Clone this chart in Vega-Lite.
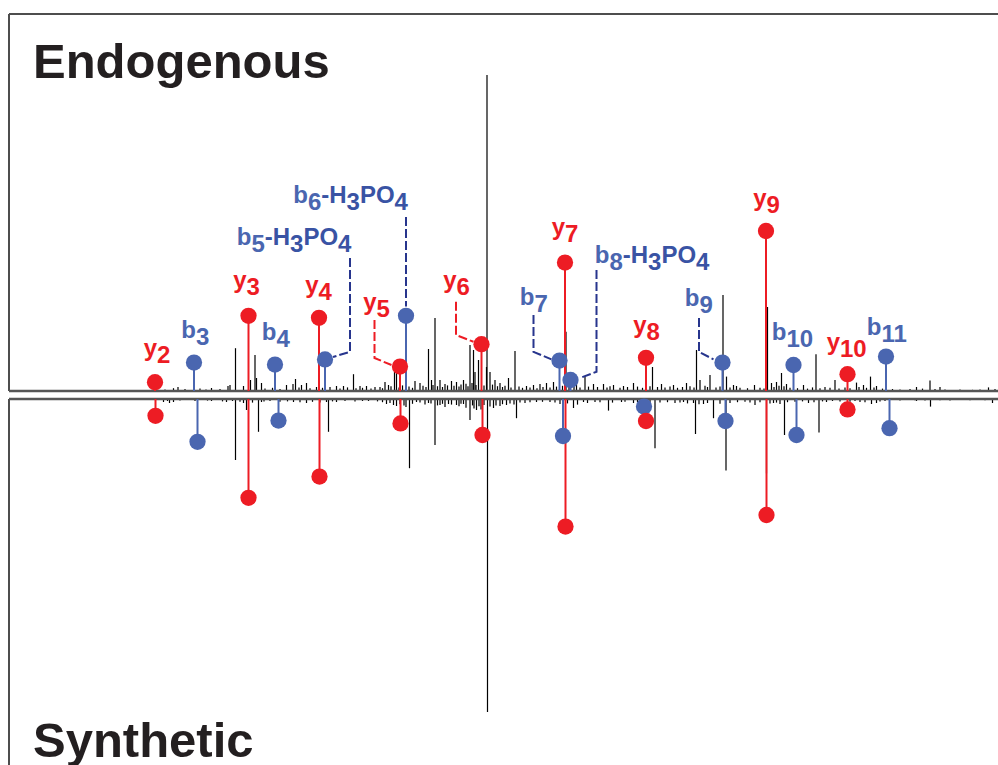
{
  "$schema": "https://vega.github.io/schema/vega-lite/v6.json",
  "padding": {"left": 7, "top": 13, "right": 0, "bottom": 0},
  "spacing": 8,
  "bounds": "flush",
  "background": "white",
  "config": {
    "view": {"stroke": null},
    "axis": {"disable": true},
    "legend": {"disable": true},
    "text": {"font": "Liberation Sans"}
  },
  "resolve": {"scale": {"x": "independent", "y": "independent", "color": "independent"}},
  "datasets": {
    "topNoise": [
      {"mz":347,"i":0.7},{"mz":356,"i":1},{"mz":423,"i":0.75},{"mz":456,"i":1.25},{"mz":460,"i":1.5},{"mz":471,"i":10.7},{"mz":487,"i":1.25},{"mz":501,"i":2.75},{"mz":510,"i":9},{"mz":513,"i":3.25},{"mz":523,"i":2},{"mz":573,"i":1.5},{"mz":586,"i":1.75},{"mz":591,"i":3},{"mz":603,"i":1.5},{"mz":613,"i":2},{"mz":633,"i":1},{"mz":660,"i":1},{"mz":673,"i":1.25},{"mz":687,"i":1.25},{"mz":707,"i":4.2},{"mz":720,"i":1.25},{"mz":733,"i":1.25},{"mz":750,"i":1},{"mz":770,"i":2.25},{"mz":777,"i":1.5},{"mz":789,"i":7},{"mz":793,"i":5.25},{"mz":830,"i":2.5},{"mz":840,"i":2},{"mz":857,"i":10.5},{"mz":863,"i":2.75},{"mz":870,"i":18.25},{"mz":880,"i":2.75},{"mz":890,"i":1.75},{"mz":903,"i":2.5},{"mz":913,"i":2.25},{"mz":927,"i":2.75},{"mz":940,"i":11.5},{"mz":947,"i":10.25},{"mz":950,"i":4.75},{"mz":957,"i":7.75},{"mz":973,"i":6},{"mz":974,"i":79},{"mz":980,"i":4.75},{"mz":990,"i":2.75},{"mz":1000,"i":2},{"mz":1017,"i":3.25},{"mz":1030,"i":10},{"mz":1053,"i":1.25},{"mz":1067,"i":1.5},{"mz":1080,"i":1.75},{"mz":1093,"i":2},{"mz":1107,"i":2.25},{"mz":1132,"i":14.8},{"mz":1153,"i":2},{"mz":1170,"i":3.6},{"mz":1187,"i":1.75},{"mz":1207,"i":1.75},{"mz":1227,"i":1.5},{"mz":1247,"i":1.25},{"mz":1267,"i":2},{"mz":1305,"i":6},{"mz":1323,"i":1.75},{"mz":1347,"i":1.5},{"mz":1373,"i":2},{"mz":1393,"i":10.25},{"mz":1400,"i":2.75},{"mz":1420,"i":4},{"mz":1446,"i":24},{"mz":1453,"i":3.6},{"mz":1467,"i":1.5},{"mz":1473,"i":1.25},{"mz":1509,"i":1.5},{"mz":1535,"i":21},{"mz":1543,"i":2},{"mz":1553,"i":2.25},{"mz":1563,"i":4.5},{"mz":1573,"i":1.75},{"mz":1607,"i":1.5},{"mz":1632,"i":9.2},{"mz":1650,"i":1},{"mz":1670,"i":2.75},{"mz":1713,"i":2.1},{"mz":1727,"i":1.5},{"mz":1741,"i":3.6},{"mz":1753,"i":1.25},{"mz":1833,"i":1},{"mz":1860,"i":2.6},{"mz":1880,"i":1},{"mz":1977,"i":0.9},
      {"mz":330,"i":0.4},{"mz":370,"i":0.5},{"mz":400,"i":0.6},{"mz":412,"i":0.4},{"mz":440,"i":0.5},{"mz":530,"i":0.6},{"mz":545,"i":0.8},{"mz":560,"i":0.5},{"mz":598,"i":0.9},{"mz":620,"i":0.7},{"mz":645,"i":0.8},{"mz":680,"i":0.6},{"mz":695,"i":0.9},{"mz":712,"i":0.7},{"mz":725,"i":0.8},{"mz":742,"i":0.6},{"mz":760,"i":1.0},{"mz":765,"i":0.7},{"mz":782,"i":1.2},{"mz":798,"i":0.9},{"mz":805,"i":1.4},{"mz":818,"i":1.1},{"mz":825,"i":0.8},{"mz":846,"i":1.3},{"mz":852,"i":1.0},{"mz":866,"i":1.5},{"mz":875,"i":1.2},{"mz":885,"i":1.0},{"mz":895,"i":1.4},{"mz":908,"i":1.3},{"mz":918,"i":1.1},{"mz":922,"i":1.6},{"mz":932,"i":1.8},{"mz":936,"i":1.2},{"mz":944,"i":2.0},{"mz":952,"i":1.5},{"mz":968,"i":1.4},{"mz":985,"i":1.6},{"mz":995,"i":1.2},{"mz":1005,"i":1.0},{"mz":1010,"i":1.3},{"mz":1022,"i":0.9},{"mz":1038,"i":1.1},{"mz":1045,"i":0.8},{"mz":1060,"i":0.9},{"mz":1074,"i":0.7},{"mz":1086,"i":1.0},{"mz":1100,"i":0.9},{"mz":1113,"i":1.1},{"mz":1125,"i":1.3},{"mz":1138,"i":1.0},{"mz":1148,"i":1.2},{"mz":1160,"i":0.9},{"mz":1177,"i":1.1},{"mz":1195,"i":1.0},{"mz":1214,"i":0.9},{"mz":1220,"i":1.2},{"mz":1240,"i":0.8},{"mz":1255,"i":1.0},{"mz":1275,"i":1.1},{"mz":1285,"i":0.8},{"mz":1300,"i":1.2},{"mz":1315,"i":1.0},{"mz":1330,"i":0.9},{"mz":1340,"i":1.1},{"mz":1355,"i":0.8},{"mz":1365,"i":1.0},{"mz":1380,"i":1.2},{"mz":1388,"i":0.9},{"mz":1410,"i":1.3},{"mz":1415,"i":1.0},{"mz":1432,"i":0.9},{"mz":1440,"i":1.1},{"mz":1460,"i":0.9},{"mz":1480,"i":0.8},{"mz":1495,"i":0.7},{"mz":1520,"i":0.8},{"mz":1528,"i":0.6},{"mz":1548,"i":1.0},{"mz":1558,"i":1.3},{"mz":1568,"i":1.2},{"mz":1580,"i":0.8},{"mz":1595,"i":0.7},{"mz":1615,"i":0.6},{"mz":1625,"i":0.9},{"mz":1640,"i":0.7},{"mz":1660,"i":0.8},{"mz":1678,"i":0.6},{"mz":1690,"i":0.9},{"mz":1700,"i":0.7},{"mz":1718,"i":1.0},{"mz":1733,"i":0.8},{"mz":1748,"i":0.9},{"mz":1765,"i":0.6},{"mz":1785,"i":0.5},{"mz":1800,"i":0.4},{"mz":1820,"i":0.5},{"mz":1845,"i":0.6},{"mz":1870,"i":0.5},{"mz":1890,"i":0.4},{"mz":1920,"i":0.4},{"mz":1945,"i":0.3},{"mz":1960,"i":0.4},{"mz":1990,"i":0.5}
    ],
    "botNoise": [
      {"mz":327,"i":0.75},{"mz":339,"i":1},{"mz":347,"i":0.75},{"mz":423,"i":0.5},{"mz":453,"i":0.75},{"mz":471,"i":15.25},{"mz":487,"i":1},{"mz":493,"i":2.75},{"mz":517,"i":8.2},{"mz":523,"i":0.75},{"mz":587,"i":0.75},{"mz":613,"i":1},{"mz":653,"i":0.75},{"mz":657,"i":8.2},{"mz":673,"i":0.75},{"mz":737,"i":0.5},{"mz":773,"i":1.25},{"mz":787,"i":1.5},{"mz":793,"i":1.75},{"mz":819,"i":17.3},{"mz":833,"i":0.75},{"mz":857,"i":1},{"mz":870,"i":11.5},{"mz":880,"i":1.5},{"mz":897,"i":1.25},{"mz":913,"i":1.5},{"mz":927,"i":1.25},{"mz":940,"i":5.25},{"mz":953,"i":2.75},{"mz":975,"i":78.25},{"mz":987,"i":2.25},{"mz":1000,"i":1.75},{"mz":1013,"i":1.5},{"mz":1033,"i":4.8},{"mz":1073,"i":0.75},{"mz":1100,"i":0.75},{"mz":1120,"i":1.25},{"mz":1147,"i":2.25},{"mz":1167,"i":0.75},{"mz":1190,"i":0.75},{"mz":1217,"i":2.9},{"mz":1243,"i":0.75},{"mz":1267,"i":1},{"mz":1310,"i":12.3},{"mz":1367,"i":0.75},{"mz":1387,"i":1},{"mz":1391,"i":8.75},{"mz":1407,"i":1.25},{"mz":1427,"i":4.8},{"mz":1452,"i":17.9},{"mz":1510,"i":1.5},{"mz":1533,"i":18.6},{"mz":1547,"i":1},{"mz":1560,"i":1.25},{"mz":1569,"i":9},{"mz":1617,"i":1},{"mz":1638,"i":8.4},{"mz":1653,"i":0.75},{"mz":1720,"i":0.75},{"mz":1743,"i":1.25},{"mz":1753,"i":1},{"mz":1833,"i":0.5},{"mz":1861,"i":1.9},{"mz":1985,"i":1},
      {"mz":335,"i":0.5},{"mz":360,"i":0.4},{"mz":390,"i":0.5},{"mz":415,"i":0.4},{"mz":445,"i":0.6},{"mz":465,"i":0.5},{"mz":480,"i":0.7},{"mz":505,"i":0.9},{"mz":528,"i":0.6},{"mz":540,"i":0.5},{"mz":560,"i":0.7},{"mz":575,"i":0.6},{"mz":600,"i":0.8},{"mz":625,"i":0.7},{"mz":640,"i":0.9},{"mz":665,"i":0.6},{"mz":690,"i":0.5},{"mz":710,"i":0.6},{"mz":725,"i":0.5},{"mz":755,"i":0.6},{"mz":765,"i":0.8},{"mz":780,"i":1.0},{"mz":800,"i":1.3},{"mz":808,"i":1.6},{"mz":812,"i":2.0},{"mz":825,"i":1.2},{"mz":840,"i":0.9},{"mz":850,"i":1.4},{"mz":862,"i":1.1},{"mz":875,"i":1.6},{"mz":885,"i":1.2},{"mz":890,"i":2.0},{"mz":903,"i":1.4},{"mz":918,"i":1.8},{"mz":922,"i":1.2},{"mz":932,"i":2.2},{"mz":945,"i":1.6},{"mz":948,"i":2.4},{"mz":958,"i":1.8},{"mz":962,"i":2.6},{"mz":968,"i":1.5},{"mz":980,"i":1.9},{"mz":992,"i":1.6},{"mz":1005,"i":1.3},{"mz":1020,"i":1.1},{"mz":1028,"i":1.4},{"mz":1040,"i":0.9},{"mz":1050,"i":1.0},{"mz":1060,"i":0.8},{"mz":1085,"i":0.7},{"mz":1110,"i":0.9},{"mz":1135,"i":1.1},{"mz":1155,"i":1.4},{"mz":1175,"i":1.0},{"mz":1200,"i":0.8},{"mz":1225,"i":0.9},{"mz":1250,"i":0.7},{"mz":1275,"i":0.8},{"mz":1292,"i":1.2},{"mz":1300,"i":1.4},{"mz":1320,"i":0.9},{"mz":1335,"i":0.8},{"mz":1350,"i":1.0},{"mz":1360,"i":0.9},{"mz":1375,"i":1.1},{"mz":1398,"i":1.3},{"mz":1415,"i":1.0},{"mz":1440,"i":1.2},{"mz":1460,"i":1.0},{"mz":1475,"i":0.8},{"mz":1490,"i":0.7},{"mz":1500,"i":0.9},{"mz":1520,"i":0.8},{"mz":1540,"i":1.1},{"mz":1553,"i":0.9},{"mz":1575,"i":0.8},{"mz":1590,"i":0.7},{"mz":1605,"i":0.6},{"mz":1628,"i":0.8},{"mz":1645,"i":0.6},{"mz":1665,"i":0.5},{"mz":1680,"i":0.6},{"mz":1700,"i":0.7},{"mz":1710,"i":0.5},{"mz":1730,"i":0.8},{"mz":1760,"i":0.6},{"mz":1770,"i":0.5},{"mz":1800,"i":0.4},{"mz":1830,"i":0.3},{"mz":1850,"i":0.4},{"mz":1880,"i":0.3},{"mz":1900,"i":0.4},{"mz":1940,"i":0.3},{"mz":1970,"i":0.3}
    ],
    "topIons": [
      {"ion":"y2","type":"y","mz":310,"i":2.2},
      {"ion":"b3","type":"b","mz":388,"i":7.1},
      {"ion":"y3","type":"y","mz":497,"i":18.8},
      {"ion":"b4","type":"b","mz":550,"i":6.6},
      {"ion":"y4","type":"y","mz":638,"i":18.3},
      {"ion":"b5-H3PO4","type":"b","mz":650,"i":7.9},
      {"ion":"y5","type":"y","mz":800,"i":6.1},
      {"ion":"b6-H3PO4","type":"b","mz":812,"i":18.8},
      {"ion":"y6","type":"y","mz":963,"i":11.7},
      {"ion":"b7","type":"b","mz":1119,"i":7.6},
      {"ion":"y7","type":"y","mz":1130,"i":32.1},
      {"ion":"b8-H3PO4","type":"b","mz":1141,"i":2.75},
      {"ion":"y8","type":"y","mz":1292,"i":8.3},
      {"ion":"b9","type":"b","mz":1445,"i":7.1},
      {"ion":"y9","type":"y","mz":1532,"i":40},
      {"ion":"b10","type":"b","mz":1587,"i":6.5},
      {"ion":"y10","type":"y","mz":1695,"i":4.2},
      {"ion":"b11","type":"b","mz":1772,"i":8.6}
    ],
    "botIons": [
      {"ion":"y2","type":"y","mz":311,"i":4.2},
      {"ion":"b3","type":"b","mz":395,"i":10.7},
      {"ion":"y3","type":"y","mz":497,"i":24.7},
      {"ion":"b4","type":"b","mz":557,"i":5.4},
      {"ion":"y4","type":"y","mz":639,"i":19.4},
      {"ion":"y5","type":"y","mz":801,"i":6.1},
      {"ion":"y6","type":"y","mz":965,"i":9},
      {"ion":"b7","type":"b","mz":1126,"i":9.25},
      {"ion":"y7","type":"y","mz":1131,"i":31.9},
      {"ion":"b8","type":"b","mz":1288,"i":1.9},
      {"ion":"y8","type":"y","mz":1292,"i":5.5},
      {"ion":"b9","type":"b","mz":1451,"i":5.5},
      {"ion":"y9","type":"y","mz":1533,"i":29},
      {"ion":"b10","type":"b","mz":1593,"i":9},
      {"ion":"y10","type":"y","mz":1695,"i":2.6},
      {"ion":"b11","type":"b","mz":1779,"i":7.3}
    ],
    "topLabels": [
      {"type":"y","letter":"y","sub":"2","phospho":false,"mz":314,"i":8.75},
      {"type":"b","letter":"b","sub":"3","phospho":false,"mz":392,"i":13.25},
      {"type":"y","letter":"y","sub":"3","phospho":false,"mz":493,"i":25.75},
      {"type":"b","letter":"b","sub":"4","phospho":false,"mz":553,"i":12.8},
      {"type":"y","letter":"y","sub":"4","phospho":false,"mz":637,"i":24.5},
      {"type":"y","letter":"y","sub":"5","phospho":false,"mz":753,"i":20.3},
      {"type":"y","letter":"y","sub":"6","phospho":false,"mz":913,"i":25.75},
      {"type":"b","letter":"b","sub":"5","phospho":true,"mz":503,"i":36.6},
      {"type":"b","letter":"b","sub":"6","phospho":true,"mz":616,"i":47},
      {"type":"y","letter":"y","sub":"7","phospho":false,"mz":1130,"i":39.1},
      {"type":"b","letter":"b","sub":"7","phospho":false,"mz":1069,"i":21.6},
      {"type":"b","letter":"b","sub":"8","phospho":true,"mz":1219,"i":32},
      {"type":"y","letter":"y","sub":"8","phospho":false,"mz":1293,"i":14.5},
      {"type":"b","letter":"b","sub":"9","phospho":false,"mz":1399,"i":21.2},
      {"type":"y","letter":"y","sub":"9","phospho":false,"mz":1533,"i":46.2},
      {"type":"b","letter":"b","sub":"10","phospho":false,"mz":1573,"i":12.8},
      {"type":"y","letter":"y","sub":"10","phospho":false,"mz":1680,"i":10.3},
      {"type":"b","letter":"b","sub":"11","phospho":false,"mz":1763,"i":14.1}
    ],
    "leaders": [
      {"id":"b5","type":"b","k":1,"mz":700,"i":33.25},{"id":"b5","type":"b","k":2,"mz":700,"i":9.8},{"id":"b5","type":"b","k":3,"mz":666,"i":8.5},
      {"id":"b6","type":"b","k":1,"mz":812,"i":43.5},{"id":"b6","type":"b","k":2,"mz":812,"i":21.1},
      {"id":"b7","type":"b","k":1,"mz":1067,"i":19},{"id":"b7","type":"b","k":2,"mz":1067,"i":9.8},{"id":"b7","type":"b","k":3,"mz":1103,"i":7.9},
      {"id":"b8","type":"b","k":1,"mz":1193,"i":30.25},{"id":"b8","type":"b","k":2,"mz":1193,"i":4.8},{"id":"b8","type":"b","k":3,"mz":1160,"i":3.25},
      {"id":"b9","type":"b","k":1,"mz":1398,"i":18.25},{"id":"b9","type":"b","k":2,"mz":1398,"i":9.8},{"id":"b9","type":"b","k":3,"mz":1427,"i":7.9},
      {"id":"y5","type":"y","k":1,"mz":749,"i":17.75},{"id":"y5","type":"y","k":2,"mz":749,"i":8.25},{"id":"y5","type":"y","k":3,"mz":783,"i":6.5},
      {"id":"y6","type":"y","k":1,"mz":912,"i":22.3},{"id":"y6","type":"y","k":2,"mz":912,"i":14},{"id":"y6","type":"y","k":3,"mz":947,"i":12.3}
    ]
  },
  "vconcat": [
    {
      "width": 989,
      "height": 377,
      "layer": [
        {"data": {"values": [{"mz": 18, "i": 94.25}]}, "mark": {"type": "rule", "color": "#4d4d4d", "strokeWidth": 2},
         "encoding": {"x": {"field": "mz", "type": "quantitative", "scale": {"domain": [18, 1996], "nice": false, "zero": false}}}},
        {"data": {"values": [{"mz": 18, "i": 94.25}]}, "mark": {"type": "rule", "color": "#4d4d4d", "strokeWidth": 2},
         "encoding": {"y": {"field": "i", "type": "quantitative", "scale": {"domain": [0, 94.25], "nice": false, "zero": false}}}},
        {"data": {"name": "topNoise"}, "mark": {"type": "rule", "color": "#000000", "strokeWidth": 1.2},
         "encoding": {
           "x": {"field": "mz", "type": "quantitative", "scale": {"domain": [18, 1996], "nice": false, "zero": false}},
           "y": {"field": "i", "type": "quantitative", "scale": {"domain": [0, 94.25], "nice": false, "zero": false}},
           "y2": {"datum": 0}}},
        {"data": {"values": [{"i": 0}]}, "mark": {"type": "rule", "color": "#555555", "strokeWidth": 2.5},
         "encoding": {"y": {"field": "i", "type": "quantitative", "scale": {"domain": [0, 94.25], "nice": false, "zero": false}}}},
        {"data": {"name": "topIons"}, "mark": {"type": "rule", "strokeWidth": 2},
         "encoding": {
           "x": {"field": "mz", "type": "quantitative", "scale": {"domain": [18, 1996], "nice": false, "zero": false}},
           "y": {"field": "i", "type": "quantitative", "scale": {"domain": [0, 94.25], "nice": false, "zero": false}},
           "y2": {"datum": 0},
           "color": {"field": "type", "type": "nominal", "scale": {"domain": ["y", "b"], "range": ["#ED1C24", "#4A66B0"]}, "legend": null}}},
        {"data": {"name": "leaders"}, "transform": [{"filter": "datum.type == 'b'"}], "mark": {"type": "line", "color": "#27358D", "strokeWidth": 2, "strokeDash": [9, 3]},
         "encoding": {
           "x": {"field": "mz", "type": "quantitative", "scale": {"domain": [18, 1996], "nice": false, "zero": false}},
           "y": {"field": "i", "type": "quantitative", "scale": {"domain": [0, 94.25], "nice": false, "zero": false}},
           "detail": {"field": "id"}, "order": {"field": "k"}}},
        {"data": {"name": "leaders"}, "transform": [{"filter": "datum.type == 'y'"}], "mark": {"type": "line", "color": "#ED1C24", "strokeWidth": 2, "strokeDash": [9, 3]},
         "encoding": {
           "x": {"field": "mz", "type": "quantitative", "scale": {"domain": [18, 1996], "nice": false, "zero": false}},
           "y": {"field": "i", "type": "quantitative", "scale": {"domain": [0, 94.25], "nice": false, "zero": false}},
           "detail": {"field": "id"}, "order": {"field": "k"}}},
        {"data": {"name": "topIons"}, "mark": {"type": "point", "filled": true, "opacity": 1, "size": 265},
         "encoding": {
           "x": {"field": "mz", "type": "quantitative", "scale": {"domain": [18, 1996], "nice": false, "zero": false}},
           "y": {"field": "i", "type": "quantitative", "scale": {"domain": [0, 94.25], "nice": false, "zero": false}},
           "color": {"field": "type", "type": "nominal", "scale": {"domain": ["y", "b"], "range": ["#ED1C24", "#3953A4"]}, "legend": null}}},
        {"data": {"name": "topLabels"}, "mark": {"type": "text", "align": "right", "baseline": "alphabetic", "fontSize": 24, "fontWeight": "bold", "font": "Liberation Sans"},
         "encoding": {
           "x": {"field": "mz", "type": "quantitative", "scale": {"domain": [18, 1996], "nice": false, "zero": false}},
           "y": {"field": "i", "type": "quantitative", "scale": {"domain": [0, 94.25], "nice": false, "zero": false}},
           "text": {"field": "letter"},
           "color": {"field": "type", "type": "nominal", "scale": {"domain": ["y", "b"], "range": ["#ED1C24", "#3953A4"]}, "legend": null}}},
        {"data": {"name": "topLabels"}, "mark": {"type": "text", "align": "left", "baseline": "alphabetic", "fontSize": 24, "fontWeight": "bold", "font": "Liberation Sans", "dy": 7},
         "encoding": {
           "x": {"field": "mz", "type": "quantitative", "scale": {"domain": [18, 1996], "nice": false, "zero": false}},
           "y": {"field": "i", "type": "quantitative", "scale": {"domain": [0, 94.25], "nice": false, "zero": false}},
           "text": {"field": "sub"},
           "color": {"field": "type", "type": "nominal", "scale": {"domain": ["y", "b"], "range": ["#ED1C24", "#3953A4"]}, "legend": null}}},
        {"data": {"name": "topLabels"}, "transform": [{"filter": "datum.phospho"}], "mark": {"type": "text", "text": "-H", "align": "left", "baseline": "alphabetic", "fontSize": 24, "fontWeight": "bold", "font": "Liberation Sans", "dx": 13.3, "color": "#3953A4"},
         "encoding": {
           "x": {"field": "mz", "type": "quantitative", "scale": {"domain": [18, 1996], "nice": false, "zero": false}},
           "y": {"field": "i", "type": "quantitative", "scale": {"domain": [0, 94.25], "nice": false, "zero": false}}}},
        {"data": {"name": "topLabels"}, "transform": [{"filter": "datum.phospho"}], "mark": {"type": "text", "text": "3", "align": "left", "baseline": "alphabetic", "fontSize": 24, "fontWeight": "bold", "font": "Liberation Sans", "dx": 38.6, "dy": 7, "color": "#3953A4"},
         "encoding": {
           "x": {"field": "mz", "type": "quantitative", "scale": {"domain": [18, 1996], "nice": false, "zero": false}},
           "y": {"field": "i", "type": "quantitative", "scale": {"domain": [0, 94.25], "nice": false, "zero": false}}}},
        {"data": {"name": "topLabels"}, "transform": [{"filter": "datum.phospho"}], "mark": {"type": "text", "text": "PO", "align": "left", "baseline": "alphabetic", "fontSize": 24, "fontWeight": "bold", "font": "Liberation Sans", "dx": 51.9, "color": "#3953A4"},
         "encoding": {
           "x": {"field": "mz", "type": "quantitative", "scale": {"domain": [18, 1996], "nice": false, "zero": false}},
           "y": {"field": "i", "type": "quantitative", "scale": {"domain": [0, 94.25], "nice": false, "zero": false}}}},
        {"data": {"name": "topLabels"}, "transform": [{"filter": "datum.phospho"}], "mark": {"type": "text", "text": "4", "align": "left", "baseline": "alphabetic", "fontSize": 24, "fontWeight": "bold", "font": "Liberation Sans", "dx": 86.6, "dy": 7, "color": "#3953A4"},
         "encoding": {
           "x": {"field": "mz", "type": "quantitative", "scale": {"domain": [18, 1996], "nice": false, "zero": false}},
           "y": {"field": "i", "type": "quantitative", "scale": {"domain": [0, 94.25], "nice": false, "zero": false}}}},
        {"data": {"values": [{"t": "Endogenous", "mz": 66, "i": 78.25}]}, "mark": {"type": "text", "align": "left", "baseline": "alphabetic", "fontSize": 49, "fontWeight": "bold", "font": "Liberation Sans", "color": "#231F20"},
         "encoding": {
           "x": {"field": "mz", "type": "quantitative", "scale": {"domain": [18, 1996], "nice": false, "zero": false}},
           "y": {"field": "i", "type": "quantitative", "scale": {"domain": [0, 94.25], "nice": false, "zero": false}},
           "text": {"field": "t"}}}
      ]
    },
    {
      "width": 989,
      "height": 366,
      "layer": [
        {"data": {"values": [{"mz": 18}]}, "mark": {"type": "rule", "color": "#4d4d4d", "strokeWidth": 2},
         "encoding": {"x": {"field": "mz", "type": "quantitative", "scale": {"domain": [18, 1996], "nice": false, "zero": false}}}},
        {"data": {"name": "botNoise"}, "mark": {"type": "rule", "color": "#000000", "strokeWidth": 1.2},
         "encoding": {
           "x": {"field": "mz", "type": "quantitative", "scale": {"domain": [18, 1996], "nice": false, "zero": false}},
           "y": {"field": "i", "type": "quantitative", "scale": {"domain": [0, 91.5], "reverse": true, "nice": false, "zero": false}},
           "y2": {"datum": 0}}},
        {"data": {"values": [{"i": 0}]}, "mark": {"type": "rule", "color": "#555555", "strokeWidth": 2.5},
         "encoding": {"y": {"field": "i", "type": "quantitative", "scale": {"domain": [0, 91.5], "reverse": true, "nice": false, "zero": false}}}},
        {"data": {"name": "botIons"}, "mark": {"type": "rule", "strokeWidth": 2},
         "encoding": {
           "x": {"field": "mz", "type": "quantitative", "scale": {"domain": [18, 1996], "nice": false, "zero": false}},
           "y": {"field": "i", "type": "quantitative", "scale": {"domain": [0, 91.5], "reverse": true, "nice": false, "zero": false}},
           "y2": {"datum": 0},
           "color": {"field": "type", "type": "nominal", "scale": {"domain": ["y", "b"], "range": ["#ED1C24", "#4A66B0"]}, "legend": null}}},
        {"data": {"name": "botIons"}, "mark": {"type": "point", "filled": true, "opacity": 1, "size": 265},
         "encoding": {
           "x": {"field": "mz", "type": "quantitative", "scale": {"domain": [18, 1996], "nice": false, "zero": false}},
           "y": {"field": "i", "type": "quantitative", "scale": {"domain": [0, 91.5], "reverse": true, "nice": false, "zero": false}},
           "color": {"field": "type", "type": "nominal", "scale": {"domain": ["y", "b"], "range": ["#ED1C24", "#3953A4"]}, "legend": null}}},
        {"data": {"values": [{"t": "Synthetic", "mz": 66, "i": 89.5}]}, "mark": {"type": "text", "align": "left", "baseline": "alphabetic", "fontSize": 49, "fontWeight": "bold", "font": "Liberation Sans", "color": "#231F20"},
         "encoding": {
           "x": {"field": "mz", "type": "quantitative", "scale": {"domain": [18, 1996], "nice": false, "zero": false}},
           "y": {"field": "i", "type": "quantitative", "scale": {"domain": [0, 91.5], "reverse": true, "nice": false, "zero": false}},
           "text": {"field": "t"}}}
      ]
    }
  ]
}
